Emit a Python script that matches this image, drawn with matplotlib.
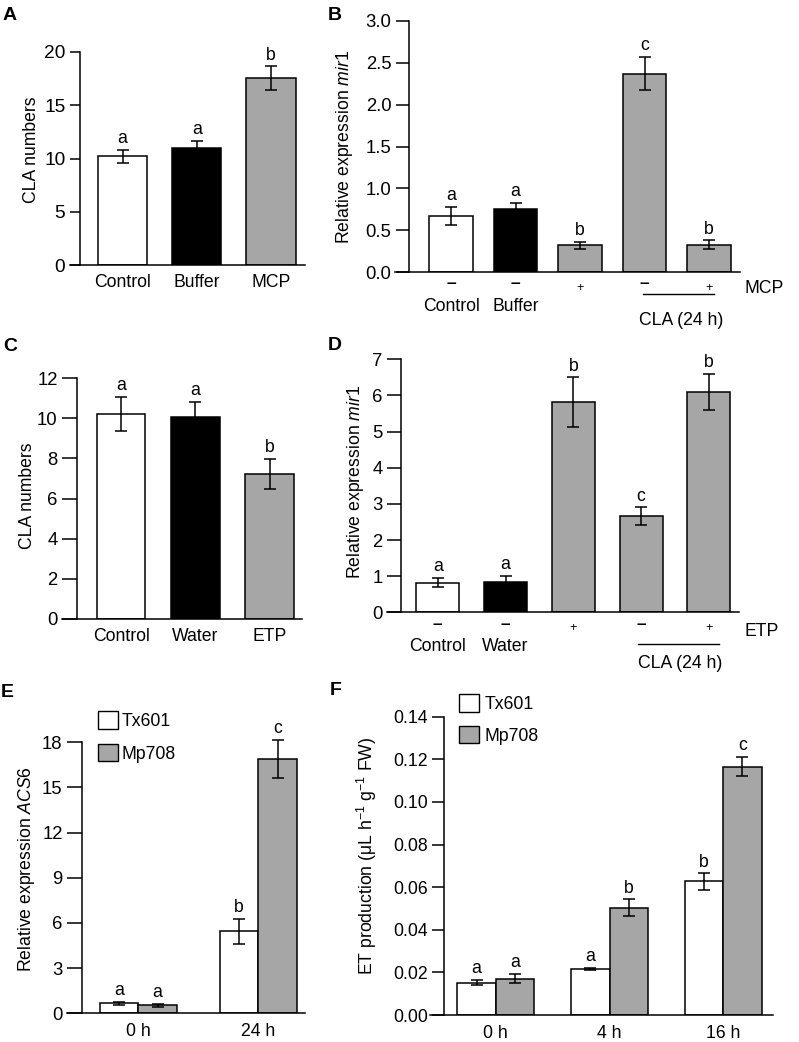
import numpy as np
import matplotlib
matplotlib.use('Agg')
from matplotlib import pyplot as plt
from matplotlib.patches import Patch
from matplotlib.ticker import FormatStrFormatter

plt.rcParams['font.family'] = ['Liberation Sans', 'DejaVu Sans']
plt.rcParams['mathtext.fontset'] = 'custom'
plt.rcParams['mathtext.rm'] = 'Liberation Sans'
plt.rcParams['mathtext.it'] = 'Liberation Sans:italic'
plt.rcParams['mathtext.bf'] = 'Liberation Sans:bold'

W, H = 799, 1042
GRAY = '#a6a6a6'

# ---- data ----
a_labels = ['Control', 'Buffer', 'MCP']
a_vals = [10.2, 10.95, 17.55]
a_err = [0.6, 0.7, 1.1]
a_sig = ['a', 'a', 'b']

b_treat = ['–', '–', '+', '–', '+']
b_vals = [0.67, 0.76, 0.32, 2.37, 0.33]
b_err = [0.11, 0.07, 0.04, 0.2, 0.05]
b_sig = ['a', 'a', 'b', 'c', 'b']
b_groups = ['Control', 'Buffer']

c_labels = ['Control', 'Water', 'ETP']
c_vals = [10.22, 10.05, 7.22]
c_err = [0.85, 0.78, 0.77]
c_sig = ['a', 'a', 'b']

d_treat = ['–', '–', '+', '–', '+']
d_vals = [0.82, 0.83, 5.82, 2.66, 6.10]
d_err = [0.13, 0.18, 0.68, 0.24, 0.5]
d_sig = ['a', 'a', 'b', 'c', 'b']
d_groups = ['Control', 'Water']

e_times = ['0 h', '24 h']
e_tx = [0.66, 5.46]
e_tx_err = [0.1, 0.83]
e_tx_sig = ['a', 'b']
e_mp = [0.52, 16.9]
e_mp_err = [0.1, 1.27]
e_mp_sig = ['a', 'c']

f_times = ['0 h', '4 h', '16 h']
f_tx = [0.0152, 0.0215, 0.0627]
f_tx_err = [0.0013, 0.0006, 0.0038]
f_tx_sig = ['a', 'a', 'b']
f_mp = [0.0171, 0.0504, 0.1166]
f_mp_err = [0.0022, 0.0039, 0.0044]
f_mp_sig = ['a', 'b', 'c']

colors3 = ['white', 'black', GRAY]
colors5 = ['white', 'black', GRAY, GRAY, GRAY]

fig = plt.figure(figsize=(W / 100, H / 100), dpi=100)


def panel(left, right, spine, y0, ytop, first, step, ymax, ystep, tick_px, tsize=13.3):
    ax = fig.add_axes([left / W, 1 - y0 / H, (right - left) / W, (y0 - ytop) / H])
    ax.patch.set_alpha(0)
    ax.set_xlim((left - first) / step, (right - first) / step)
    ax.set_ylim(0, ymax)
    for s in ['top', 'right']:
        ax.spines[s].set_visible(False)
    ax.spines['left'].set_position(('data', (spine - first) / step))
    for s in ['left', 'bottom']:
        ax.spines[s].set_linewidth(1.1)
    ax.set_yticks(np.arange(0, ymax + ystep / 2, ystep))
    ax.tick_params(axis='y', direction='out', length=tick_px * 0.72, width=1.1,
                   pad=3, labelsize=tsize)
    ax.set_xticks([])
    ax.hpx = y0 - ytop
    ax.geo = (left, right, y0, ytop)
    return ax


def ylabel(ax, text, cx, cy):
    left, right, y0, ytop = ax.geo
    ax.set_ylabel(text, fontsize=12.7)
    ax.yaxis.label.set_va('center')
    ax.yaxis.set_label_coords((cx - left) / (right - left), (y0 - cy) / (y0 - ytop))


def below(ax, x, dy, s, size=12.7, ha='center', axes_x=False, weight='normal'):
    tr = ax.transAxes if axes_x else ax.get_xaxis_transform()
    ax.text(x, -dy / ax.hpx, s, transform=tr, ha=ha, va='center',
            fontsize=size, fontweight=weight, clip_on=False)


def bars(ax, x, vals, errs, width, colors, sig):
    ax.bar(x, vals, width, yerr=errs, color=colors, edgecolor='black', linewidth=1.1,
           error_kw=dict(elinewidth=1.1, capsize=4.5, capthick=1.1, ecolor='black'))
    for xi, v, e, s in zip(x, vals, errs, sig):
        ax.annotate(s, (xi, v + e), xytext=(0, 2), textcoords='offset points',
                    ha='center', va='bottom', fontsize=12.7, annotation_clip=False)
    for art in ax.lines + list(ax.collections):
        art.set_clip_on(False)


def treat_row(ax, x, treat, dy_minus, dy_plus):
    for xi, t in zip(x, treat):
        if t == '+':
            below(ax, xi, dy_plus, t, size=9)
        else:
            below(ax, xi, dy_minus, t, size=12.5, weight='bold')


def letter(s, x, y):
    fig.text(x / W, 1 - y / H, s, fontsize=14, fontweight='bold', ha='left', va='baseline')


# A
ax = panel(70, 305, 80, 265, 52, 122.5, 74.25, 20, 5, 10.5, tsize=13.8)
x = np.arange(len(a_vals))
bars(ax, x, a_vals, a_err, 0.66, colors3, a_sig)
for xi, lab in zip(x, a_labels):
    below(ax, xi, 17, lab)
ylabel(ax, 'CLA numbers', 31.7, 149.5)
letter('A', 3, 20)

# B
ax = panel(395, 740, 409, 272.3, 20.7, 451, 64.5, 3.0, 0.5, 13.5)
ax.yaxis.set_major_formatter(FormatStrFormatter('%.1f'))
x = np.arange(len(b_vals))
bars(ax, x, b_vals, b_err, 0.675, colors5, b_sig)
treat_row(ax, x, b_treat, 11, 16)
below(ax, 1.012, 16, 'MCP', ha='left', axes_x=True)
for xi, lab in zip(x, b_groups):
    below(ax, xi, 34, lab)
ax.plot([2.97, 4.07], [-21.7 / ax.hpx] * 2, color='black', lw=1.0,
        transform=ax.get_xaxis_transform(), clip_on=False)
below(ax, 3.57, 48, 'CLA (24 h)')
ylabel(ax, 'Relative expression $\\mathit{mir1}$', 344.5, 146.5)
letter('B', 328, 20)

# C
ax = panel(61.7, 301.7, 77.3, 618.7, 378.3, 121.2, 74.15, 12, 2, 15.5)
x = np.arange(len(c_vals))
bars(ax, x, c_vals, c_err, 0.654, colors3, c_sig)
for xi, lab in zip(x, c_labels):
    below(ax, xi, 18, lab)
ylabel(ax, 'CLA numbers', 27.3, 495.5)
letter('C', 3, 350.7)

# D
ax = panel(386.7, 739, 401.3, 612.3, 359.3, 437.7, 67.8, 7, 1, 14.5)
x = np.arange(len(d_vals))
bars(ax, x, d_vals, d_err, 0.634, colors5, d_sig)
treat_row(ax, x, d_treat, 12.5, 16)
below(ax, 1.017, 19.5, 'ETP', ha='left', axes_x=True)
for xi, lab in zip(x, d_groups):
    below(ax, xi, 34, lab)
ax.plot([2.96, 4.15], [-31.7 / ax.hpx] * 2, color='black', lw=1.0,
        transform=ax.get_xaxis_transform(), clip_on=False)
below(ax, 3.58, 51, 'CLA (24 h)')
ylabel(ax, 'Relative expression $\\mathit{mir1}$', 355, 481.7)
letter('D', 328, 350)

# E
ax = panel(66.7, 305, 81.7, 1013.3, 742.3, 138.3, 120, 18, 3, 15)
x = np.arange(len(e_times))
w = 0.32
bars(ax, x - w / 2, e_tx, e_tx_err, w, 'white', e_tx_sig)
bars(ax, x + w / 2, e_mp, e_mp_err, w, GRAY, e_mp_sig)
for xi, lab in zip(x, e_times):
    below(ax, xi, 18.4, lab)
ylabel(ax, 'Relative expression $\\mathit{ACS6}$', 26.7, 869)
letter('E', 1, 696.7)

handles = [Patch(facecolor='white', edgecolor='black', linewidth=1.0, label='Tx601'),
           Patch(facecolor=GRAY, edgecolor='black', linewidth=1.0, label='Mp708')]
ax.legend(handles=handles, loc='upper left', bbox_to_anchor=(97.7 / W, 1 - 711 / H),
          bbox_transform=fig.transFigure, frameon=False, fontsize=12.7, borderpad=0,
          borderaxespad=0, handlelength=1.15, handleheight=1.15, handletextpad=0.2,
          labelspacing=0.8)

# F
ax = panel(430, 773.3, 444, 1015, 716.7, 495.7, 113.8, 0.14, 0.02, 12, tsize=12.7)
ax.yaxis.set_major_formatter(FormatStrFormatter('%.2f'))
x = np.arange(len(f_times))
w = 0.337
bars(ax, x - w / 2, f_tx, f_tx_err, w, 'white', f_tx_sig)
bars(ax, x + w / 2, f_mp, f_mp_err, w, GRAY, f_mp_sig)
for xi, lab in zip(x, f_times):
    below(ax, xi, 18, lab)
ylabel(ax, 'ET production (μL h$^{-1}$ g$^{-1}$ FW)', 367, 855.8)
letter('F', 330, 695)
ax.legend(handles=handles, loc='upper left', bbox_to_anchor=(459 / W, 1 - 694 / H),
          bbox_transform=fig.transFigure, frameon=False, fontsize=12.7, borderpad=0,
          borderaxespad=0, handlelength=1.15, handleheight=1.15, handletextpad=0.3,
          labelspacing=0.75)

fig.savefig('out.png', dpi=100)
